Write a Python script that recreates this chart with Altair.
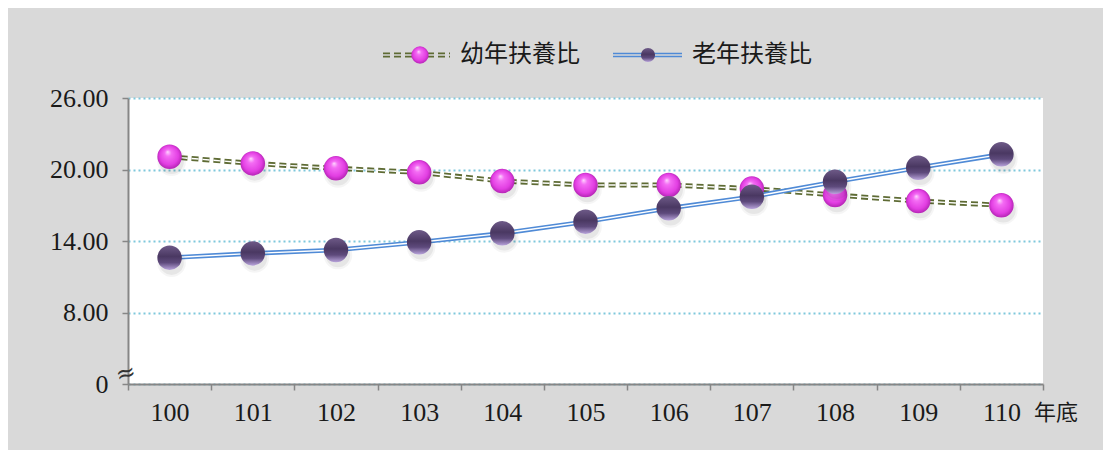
import altair as alt
import pandas as pd

years = ["100", "101", "102", "103", "104", "105", "106", "107", "108", "109", "110"]
youth = [21.07, 20.51, 20.10, 19.76, 19.03, 18.70, 18.70, 18.40, 17.86, 17.35, 17.00]
elder = [12.60, 12.96, 13.24, 13.89, 14.64, 15.62, 16.74, 17.71, 18.97, 20.15, 21.27]
series_names = ["幼年扶養比", "老年扶養比"]
y_ticks = [2, 8, 14, 20, 26]   # 2 marks the broken-axis "0"
x_unit = "年底"

df_y = pd.DataFrame({"year": years, "value": youth})
df_o = pd.DataFrame({"year": years, "value": elder})

NUM_FONT = "Liberation Serif"
CJK_FONT = "Noto Sans CJK TC"
AXIS_GRAY = "#868686"
OLIVE = "#5e6b34"
BLUE = "#4f8ad6"

xenc = alt.X(
    "year:N", sort=years,
    scale=alt.Scale(type="band", paddingInner=0, paddingOuter=0),
    axis=alt.Axis(title=None, labelAngle=0, tickBand="extent", labelFont=NUM_FONT,
                  labelFontSize=26, labelColor="#1a1a1a", labelPadding=9,
                  domainColor=AXIS_GRAY, domainWidth=2, tickColor=AXIS_GRAY,
                  tickWidth=1.5, tickSize=6, grid=False),
)
yenc = alt.Y(
    "value:Q",
    scale=alt.Scale(domain=[2, 26], nice=False, zero=False),
    axis=alt.Axis(title=None, values=y_ticks,
                  labelExpr="datum.value == 2 ? '0' : format(datum.value, '.2f')",
                  labelFont=NUM_FONT, labelFontSize=26, labelColor="#1a1a1a",
                  labelPadding=14, domainColor=AXIS_GRAY, domainWidth=2,
                  tickColor=AXIS_GRAY, tickWidth=1.5, tickSize=6,
                  grid=True, gridColor="#7ec8dc", gridDash=[2, 3], gridWidth=2),
)

pink_fill = alt.Gradient(
    gradient="radial", x1=0.42, y1=0.3, r1=0.0, x2=0.5, y2=0.5, r2=0.55,
    stops=[alt.GradientStop(offset=0, color="#ffd8ff"),
           alt.GradientStop(offset=0.25, color="#f46cf4"),
           alt.GradientStop(offset=0.7, color="#e23ee2"),
           alt.GradientStop(offset=1, color="#a81ea8")],
)
purple_fill = alt.Gradient(
    gradient="linear", x1=0.5, y1=0, x2=0.5, y2=1,
    stops=[alt.GradientStop(offset=0, color="#6e5a88"),
           alt.GradientStop(offset=0.45, color="#4a3862"),
           alt.GradientStop(offset=0.7, color="#5e4a7c"),
           alt.GradientStop(offset=1, color="#b9a4dc")],
)

base_y = alt.Chart(df_y)
base_o = alt.Chart(df_o)

def shadow(base):
    return [
        base.mark_point(filled=True, shape="circle", size=820, color="#000000",
                        opacity=0.04, yOffset=5, xOffset=2).encode(x=xenc, y=yenc),
        base.mark_point(filled=True, shape="circle", size=600, color="#000000",
                        opacity=0.06, yOffset=5, xOffset=2).encode(x=xenc, y=yenc),
    ]

olive_line = base_y.mark_line(color=OLIVE, strokeWidth=5, strokeDash=[7, 4]).encode(x=xenc, y=yenc)
olive_inner = base_y.mark_line(color="#ffffff", strokeWidth=1.4, strokeDash=[7, 4]).encode(x=xenc, y=yenc)
pink_pts = base_y.mark_point(filled=True, shape="circle", size=600, fill=pink_fill,
                             opacity=1, strokeWidth=0).encode(x=xenc, y=yenc)

blue_line = base_o.mark_line(color=BLUE, strokeWidth=4.6).encode(x=xenc, y=yenc)
blue_inner = base_o.mark_line(color="#ffffff", strokeWidth=1.4).encode(x=xenc, y=yenc)
purple_pts = base_o.mark_point(filled=True, shape="circle", size=600, fill=purple_fill,
                               opacity=1, strokeWidth=0).encode(x=xenc, y=yenc)

# --- legend (drawn by hand at top centre) ---
one = alt.Data(values=[{"k": 0}])
LY = -43
leg = [
    alt.Chart(one).mark_rule(color=OLIVE, strokeWidth=5, strokeDash=[7, 4]).encode(
        x=alt.value(255), x2=alt.value(322), y=alt.value(LY)),
    alt.Chart(one).mark_rule(color="#d9d9d9", strokeWidth=1.4, strokeDash=[7, 4]).encode(
        x=alt.value(255), x2=alt.value(322), y=alt.value(LY)),
    alt.Chart(one).mark_point(filled=True, shape="circle", size=300, fill=pink_fill,
                              opacity=1, strokeWidth=0).encode(x=alt.value(292), y=alt.value(LY)),
    alt.Chart(one).mark_text(text=series_names[0], align="left", baseline="middle",
                             font=CJK_FONT, fontSize=24, color="#1a1a1a").encode(
        x=alt.value(332), y=alt.value(LY)),
    alt.Chart(one).mark_rule(color=BLUE, strokeWidth=4.6).encode(
        x=alt.value(485), x2=alt.value(554), y=alt.value(LY)),
    alt.Chart(one).mark_rule(color="#d9d9d9", strokeWidth=1.4).encode(
        x=alt.value(485), x2=alt.value(554), y=alt.value(LY)),
    alt.Chart(one).mark_point(filled=True, shape="circle", size=200, fill=purple_fill,
                              opacity=1, strokeWidth=0).encode(x=alt.value(520), y=alt.value(LY)),
    alt.Chart(one).mark_text(text=series_names[1], align="left", baseline="middle",
                             font=CJK_FONT, fontSize=24, color="#1a1a1a").encode(
        x=alt.value(564), y=alt.value(LY)),
    # x unit label and axis-break symbol
    alt.Chart(one).mark_text(text=x_unit, align="left", baseline="middle",
                             font=CJK_FONT, fontSize=22, color="#1a1a1a").encode(
        x=alt.value(906), y=alt.value(315)),
    alt.Chart(one).mark_text(text="≈", align="center", baseline="middle",
                             font="DejaVu Serif", fontSize=24, color="#333333", angle=345).encode(
        x=alt.value(-2), y=alt.value(276)),
]

chart = alt.layer(
    olive_line, olive_inner, *shadow(base_y), pink_pts,
    blue_line, blue_inner, *shadow(base_o), purple_pts,
    *leg,
).properties(
    width=915, height=286,
    padding={"left": 120, "top": 90, "right": 60, "bottom": 66},
    autosize=alt.AutoSizeParams(type="none"),
    background="#d9d9d9",
).configure_view(fill="#ffffff", stroke=None)

chart.save("out.html", embed_options={"renderer": "svg", "actions": False})
